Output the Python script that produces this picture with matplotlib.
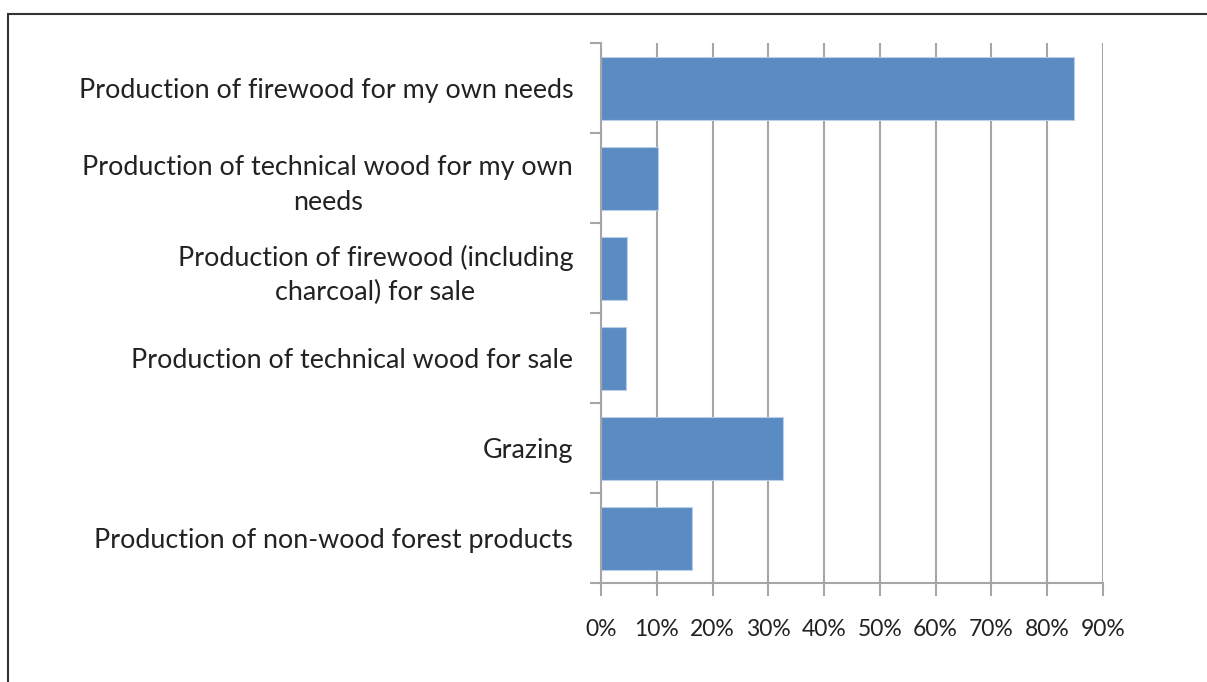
import matplotlib
matplotlib.use("Agg")
import matplotlib.pyplot as plt
from matplotlib.patches import Rectangle
import numpy as np

categories = [
    "Production of firewood for my own needs",
    "Production of technical wood for my own\nneeds",
    "Production of firewood (including\ncharcoal) for sale",
    "Production of technical wood for sale",
    "Grazing",
    "Production of non-wood forest products",
]
values = [84.8, 10.3, 4.7, 4.5, 32.6, 16.3]
xticks = [0, 10, 20, 30, 40, 50, 60, 70, 80, 90]

plt.rcParams['font.family'] = ['Lato', 'DejaVu Sans']

fig = plt.figure(figsize=(12.07, 6.82), dpi=100)
ax = fig.add_axes([601 / 1207, 1 - 583 / 682, 502 / 1207, 540 / 682])

grid_c = '#a6a6a6'
y = np.arange(len(categories))
ax.barh(y, values, height=0.7, color='#5b8bc3', edgecolor='#b9cfe8', linewidth=0.8, zorder=3)
ax.set_ylim(len(categories) - 0.5, -0.5)
ax.set_xlim(0, 90)

ax.set_xticks(xticks)
ax.set_xticklabels([f"{v}%" for v in xticks], fontsize=16.5, color='#222222')
ax.set_yticks(y)
ax.set_yticklabels(categories, fontsize=19.4, color='#222222',
                   multialignment='center', linespacing=1.45)
ax.tick_params(axis='y', length=0, pad=20)

# boundary ticks on y axis
ax.set_yticks(np.arange(len(categories) + 1) - 0.5, minor=True)
ax.tick_params(axis='y', which='minor', length=8, width=1.5, color=grid_c, left=True)
ax.tick_params(axis='x', length=9, width=1.5, color=grid_c, pad=17)

ax.grid(axis='x', color=grid_c, linewidth=1.5, zorder=0)
for s in ['top', 'right']:
    ax.spines[s].set_visible(False)
for s in ['left', 'bottom']:
    ax.spines[s].set_color(grid_c)
    ax.spines[s].set_linewidth(1.5)
    ax.spines[s].set_zorder(4)

fig.patches.append(Rectangle((8 / 1207, -0.1), 1.1, 1.1 - 14 / 682,
                             transform=fig.transFigure, fill=False,
                             edgecolor='#333333', linewidth=1.5, clip_on=False))

fig.savefig("out.png", dpi=100)
